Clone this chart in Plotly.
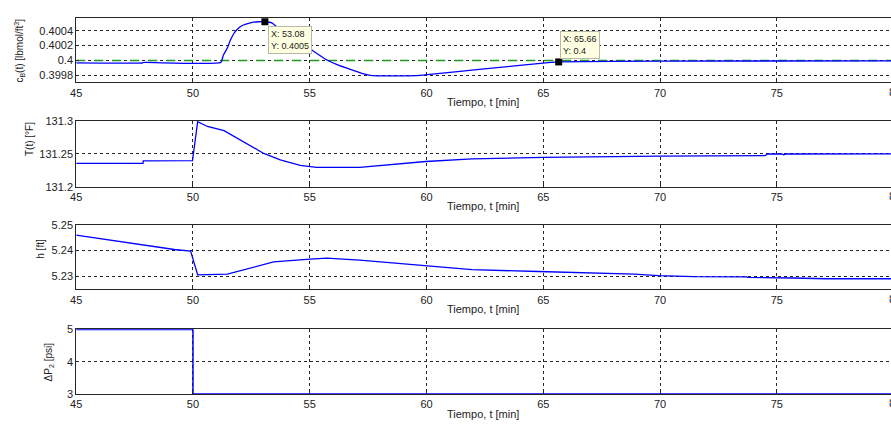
import plotly.graph_objects as go

# ---------------- data ----------------
t_cb = [45, 47.85, 47.86, 51.19, 51.3, 51.47, 51.6, 51.75, 51.9, 52.11, 52.3, 52.53, 52.8,
        53.08, 53.37, 53.6, 53.88, 54.2, 54.59, 54.9, 55.28, 55.70, 56.2, 56.71, 57.2,
        57.70, 59.54, 60.04, 62.37, 65.21, 65.66, 70, 80]
cb = [0.399968, 0.399968, 0.399972, 0.399972, 0.40007, 0.400166, 0.40027, 0.400362,
      0.40042, 0.40047, 0.40049, 0.400512, 0.40052, 0.40052, 0.400506, 0.40045, 0.40036,
      0.40031, 0.400252, 0.40018, 0.4001, 0.400013, 0.39994, 0.399882, 0.39983,
      0.399795, 0.399795, 0.399808, 0.399882, 0.39997, 0.39998, 0.39999, 0.399995]
t_sp = [45, 80]
cb_sp = [0.4, 0.4]
tip_t = [53.08, 65.66]
tip_cb = [0.40052, 0.39998]
tip_text = ["X: 53.08<br>Y: 0.4005", "X: 65.66<br>Y: 0.4"]

t_T = [45, 47.86, 47.87, 49.98, 50.2, 50.62, 51.33, 52.04, 53.03, 53.74, 54.59, 55.29,
       57.14, 59.97, 61.95, 65, 70, 74.5, 74.6, 75.2, 75.3, 75.4, 80]
T = [131.2353, 131.2355, 131.2393, 131.2395, 131.2985, 131.2912, 131.2849, 131.2701,
     131.2504, 131.2407, 131.2324, 131.2294, 131.2294, 131.2382, 131.2422, 131.2445,
     131.2465, 131.247, 131.2496, 131.2496, 131.2485, 131.2496, 131.2498]

t_h = [45, 49.2, 49.9, 50.2, 51.47, 53.45, 54.87, 55.72, 57.14, 59.83, 61.95, 64.78,
       66.2, 67.47, 68.9, 69.95, 70.87, 71.44, 73.7, 73.76, 75.68, 77.1, 80]
h = [5.246, 5.2404, 5.2398, 5.2306, 5.2309, 5.2356, 5.2366, 5.2371, 5.2363, 5.2341,
     5.2326, 5.2319, 5.2316, 5.2312, 5.2309, 5.2303, 5.2301, 5.2299, 5.2298, 5.2296,
     5.2294, 5.2291, 5.2291]

t_p = [45, 50, 50, 80]
dp = [5, 5, 3, 3]

x_ticks = [45, 50, 55, 60, 65, 70, 75, 80]
cb_ticks = [0.3998, 0.4, 0.4002, 0.4004]
cb_ticktext = ["0.3998", "0.4", "0.4002", "0.4004"]
T_ticks = [131.2, 131.25, 131.3]
T_ticktext = ["131.2", "131.25", "131.3"]
h_ticks = [5.23, 5.24, 5.25]
h_ticktext = ["5.23", "5.24", "5.25"]
p_ticks = [3, 4, 5]
p_ticktext = ["3", "4", "5"]

x_title = "Tiempo, t [min]"
y_titles = ["c<sub>B</sub>(t) [lbmol/ft<sup>3</sup>]", "T(t) [°F]", "h [ft]",
            "ΔP<sub>2</sub> [psi]"]

# ---------------- layout helpers ----------------
W, H = 891, 426
def px(x):
    return x / W
def py(y):
    return 1 - y / H

FONT = "Liberation Sans, Arial, sans-serif"
BLUE = "#0000FF"
AX = "#262626"

fig = go.Figure()

fig.add_trace(go.Scatter(x=t_sp, y=cb_sp, mode="lines", xaxis="x", yaxis="y",
                         line=dict(color="#1E9A1E", width=1.5, dash="dash")))
fig.add_trace(go.Scatter(x=t_cb, y=cb, mode="lines", xaxis="x", yaxis="y",
                         line=dict(color=BLUE, width=1.3, shape="spline", smoothing=0.4)))
fig.add_trace(go.Scatter(x=tip_t, y=tip_cb, mode="markers", xaxis="x", yaxis="y",
                         marker=dict(symbol="square", size=7, color="black"),
                         cliponaxis=False))
fig.add_trace(go.Scatter(x=t_T, y=T, mode="lines", xaxis="x2", yaxis="y2",
                         line=dict(color=BLUE, width=1.3)))
fig.add_trace(go.Scatter(x=t_h, y=h, mode="lines", xaxis="x3", yaxis="y3",
                         line=dict(color=BLUE, width=1.3)))
fig.add_trace(go.Scatter(x=t_p, y=dp, mode="lines", xaxis="x4", yaxis="y4",
                         line=dict(color=BLUE, width=1.5)))

x_left = 70.7
x_right_val = 45 + (W - x_left) / 23.51

panels = [
    # (top px, bottom px, yrange, ticks, ticktext)
    (12, 78.6, [0.399705, 0.400575], cb_ticks, cb_ticktext),
    (118, 186, [131.2, 131.3], T_ticks, T_ticktext),
    (225, 291.6, [5.225, 5.25], h_ticks, h_ticktext),
    (332.5, 399.5, [2.99, 5.01], p_ticks, p_ticktext),
]

layout = dict(width=W, height=H, margin=dict(l=0, r=0, t=0, b=0),
              paper_bgcolor="white", plot_bgcolor="white", showlegend=False,
              font=dict(family=FONT, size=11, color="#222"), hovermode=False)

for i, (top, bot, yr, tv, tt) in enumerate(panels):
    sfx = "" if i == 0 else str(i + 1)
    layout["xaxis" + sfx] = dict(
        domain=[px(x_left), 1.0], range=[45, x_right_val], anchor="y" + sfx,
        tickvals=x_ticks, ticktext=[str(v) for v in x_ticks],
        ticks="inside", ticklen=3, tickcolor=AX,
        showline=True, linecolor=AX, linewidth=1, mirror=True,
        showgrid=True, gridcolor=AX, griddash="dot", gridwidth=1,
        zeroline=False, tickfont=dict(size=11, color="#222"))
    layout["yaxis" + sfx] = dict(
        domain=[py(bot), py(top)], range=yr, anchor="x" + sfx,
        tickvals=tv, ticktext=tt,
        ticks="inside", ticklen=3, tickcolor=AX,
        showline=True, linecolor=AX, linewidth=1, mirror=False,
        showgrid=True, gridcolor=AX, griddash="dot", gridwidth=1,
        zeroline=False, tickfont=dict(size=11, color="#222"))

fig.update_layout(**layout)

annotations = []
# x titles and clipped "80" labels
for bot in [78.6, 186, 291.6, 399.5]:
    annotations.append(dict(text=x_title, xref="paper", yref="paper",
                            x=px(480), y=py(bot + 20), xanchor="center", yanchor="middle",
                            showarrow=False, font=dict(size=11, color="#222")))
    annotations.append(dict(text="80", xref="paper", yref="paper",
                            x=px(895), y=py(bot + 9.5), xanchor="center", yanchor="middle",
                            showarrow=False, font=dict(size=11, color="#222")))

# y titles
for (xc, yc, txt) in [(14, 46, y_titles[0]), (23, 137, y_titles[1]),
                      (35, 250, y_titles[2]), (43, 366, y_titles[3])]:
    annotations.append(dict(text=txt, xref="paper", yref="paper", x=px(xc), y=py(yc),
                            xanchor="center", yanchor="middle", textangle=-90,
                            showarrow=False, font=dict(size=10, color="#222")))

# data tips
for (bx, by, txt) in [(264, 21, tip_text[0]), (558, 26, tip_text[1])]:
    annotations.append(dict(text=txt, xref="paper", yref="paper", x=px(bx), y=py(by),
                            xanchor="left", yanchor="top", align="left",
                            showarrow=False, bgcolor="#FFFFE1", bordercolor="#B8B8A8",
                            borderwidth=1, borderpad=2,
                            font=dict(size=9, color="#222")))

fig.update_layout(annotations=annotations)

fig.write_html("out.html")
